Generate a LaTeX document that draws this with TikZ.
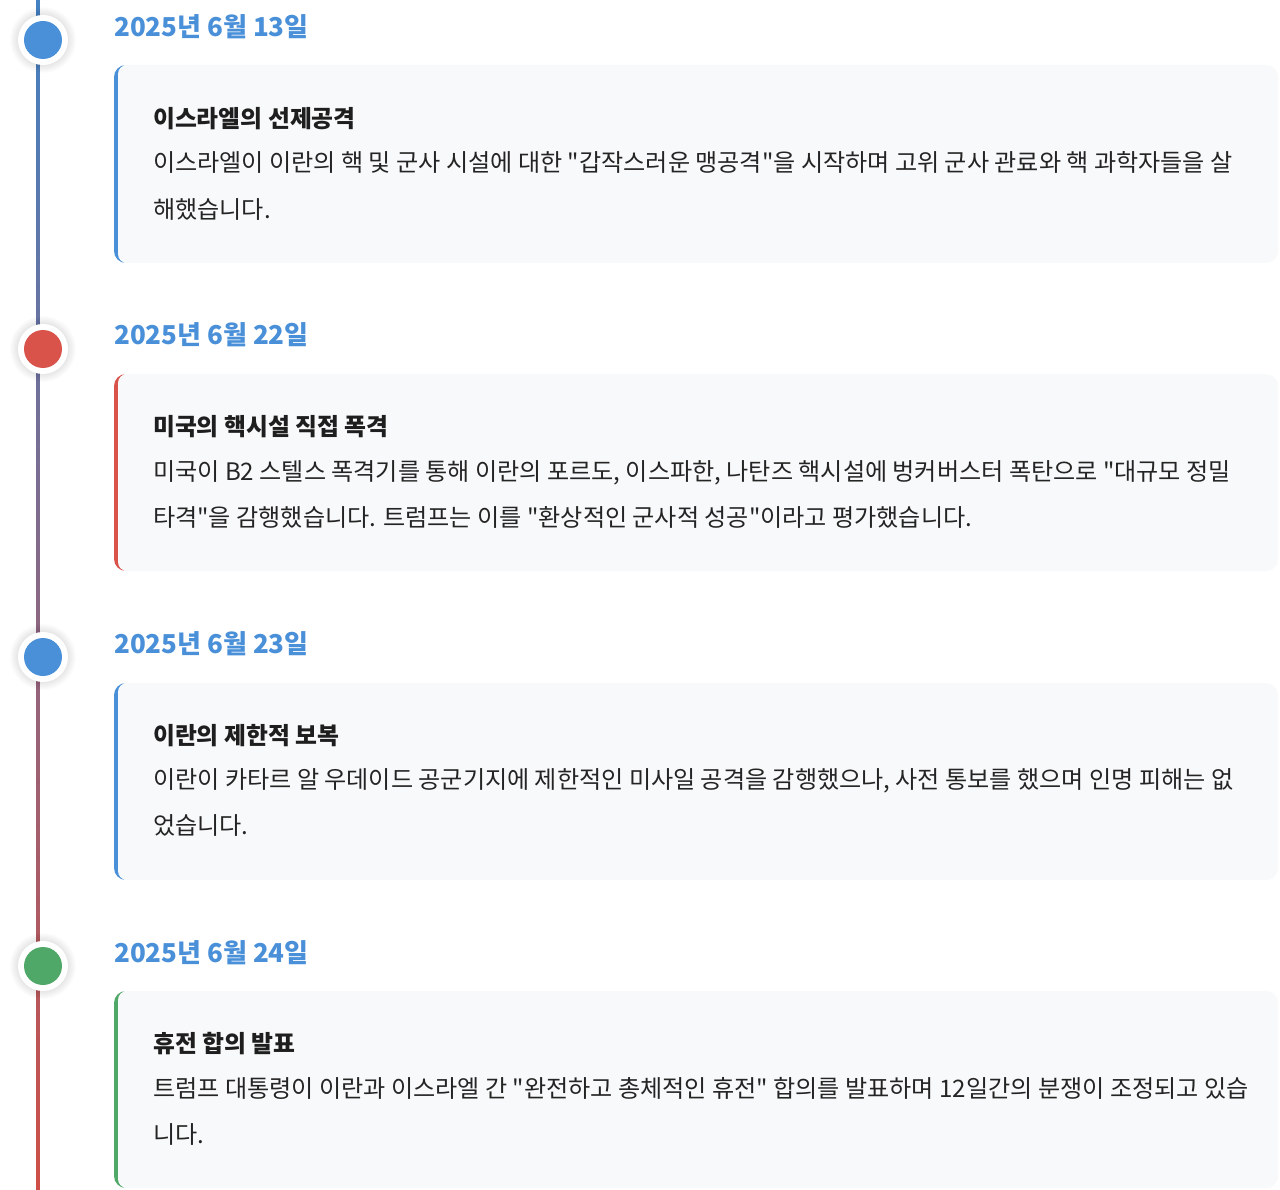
\documentclass[tikz,border=0pt]{standalone}
\usepackage{fontspec}
\setmainfont{Noto Sans CJK KR}[Ligatures=TeXOff]
\definecolor{cblue}{RGB}{74,144,217}
\definecolor{cred}{RGB}{217,83,74}
\definecolor{cgreen}{RGB}{80,168,104}
\definecolor{cardbg}{RGB}{248,249,250}
\definecolor{ink}{RGB}{30,30,30}
\definecolor{bodyink}{RGB}{36,36,36}
\tikzset{
  datetxt/.style={anchor=base west, inner sep=0pt, text=cblue, font=\fontsize{26}{30}\selectfont\bfseries},
  ttltxt/.style={anchor=base west, inner sep=0pt, text=ink, font=\fontsize{23.8}{26}\selectfont\bfseries},
  bodytxt/.style={anchor=base west, inner sep=0pt, text=bodyink, font=\fontsize{24.1}{26}\selectfont},
}
\begin{document}
\begin{tikzpicture}[x=1pt,y=-1pt]
\useasboundingbox (0,0) rectangle (1280,1190);
\fill[white] (0,0) rectangle (1280,1190);
% timeline line
\shade[top color=cblue!90!black, bottom color=cred!95!black] (36.2,0) rectangle (39.8,1190);
% cards
\foreach \t/\b/\c in {65/263/cblue, 374/571/cred, 683/880/cblue, 991/1188/cgreen} {
  \begin{scope}
    \clip (100,\t) rectangle (124,\b);
    \fill[\c, rounded corners=12pt] (114,\t) rectangle (200,\b);
  \end{scope}
  \fill[cardbg, rounded corners=12pt] (700,\t) -- (1278,\t) -- (1278,\b) -- (700,\b)
      [rounded corners=9pt] -- (118,\b) -- (118,\t) -- cycle;
}
% dots
\foreach \y/\c in {40/cblue, 349/cred, 657/cblue, 966/cgreen} {
  \foreach \r in {26,27,28,29,30,31,32,33}
    \fill[black, opacity=0.012] (43,\y) circle (\r);
  \fill[white] (43,\y) circle (25);
  \fill[\c] (43,\y) circle (19);
}
% texts
\node[datetxt] (d1) at (114,36.9) {2025년 6월 13일};
\node[ttltxt] (t1) at (153,127.1) {이스라엘의 선제공격};
\node[bodytxt] (b1a) at (153,171.1) {이스라엘이 이란의 핵 및 군사 시설에 대한 "갑작스러운 맹공격"을 시작하며 고위 군사 관료와 핵 과학자들을 살};
\node[bodytxt] (b1b) at (153,218.1) {해했습니다.};

\node[datetxt] (d2) at (114,344.9) {2025년 6월 22일};
\node[ttltxt] (t2) at (153,435.1) {미국의 핵시설 직접 폭격};
\node[bodytxt] (b2a) at (153,480.1) {미국이 B2 스텔스 폭격기를 통해 이란의 포르도, 이스파한, 나탄즈 핵시설에 벙커버스터 폭탄으로 "대규모 정밀};
\node[bodytxt] (b2b) at (153,526.1) {타격"을 감행했습니다. 트럼프는 이를 "환상적인 군사적 성공"이라고 평가했습니다.};

\node[datetxt] (d3) at (114,653.9) {2025년 6월 23일};
\node[ttltxt] (t3) at (153,744.1) {이란의 제한적 보복};
\node[bodytxt] (b3a) at (153,788.1) {이란이 카타르 알 우데이드 공군기지에 제한적인 미사일 공격을 감행했으나, 사전 통보를 했으며 인명 피해는 없};
\node[bodytxt] (b3b) at (153,834.1) {었습니다.};

\node[datetxt] (d4) at (114,962.9) {2025년 6월 24일};
\node[ttltxt] (t4) at (153,1052.1) {휴전 합의 발표};
\node[bodytxt] (b4a) at (153,1097.1) {트럼프 대통령이 이란과 이스라엘 간 "완전하고 총체적인 휴전" 합의를 발표하며 12일간의 분쟁이 조정되고 있습};
\node[bodytxt] (b4b) at (153,1143.1) {니다.};
\end{tikzpicture}
\end{document}
